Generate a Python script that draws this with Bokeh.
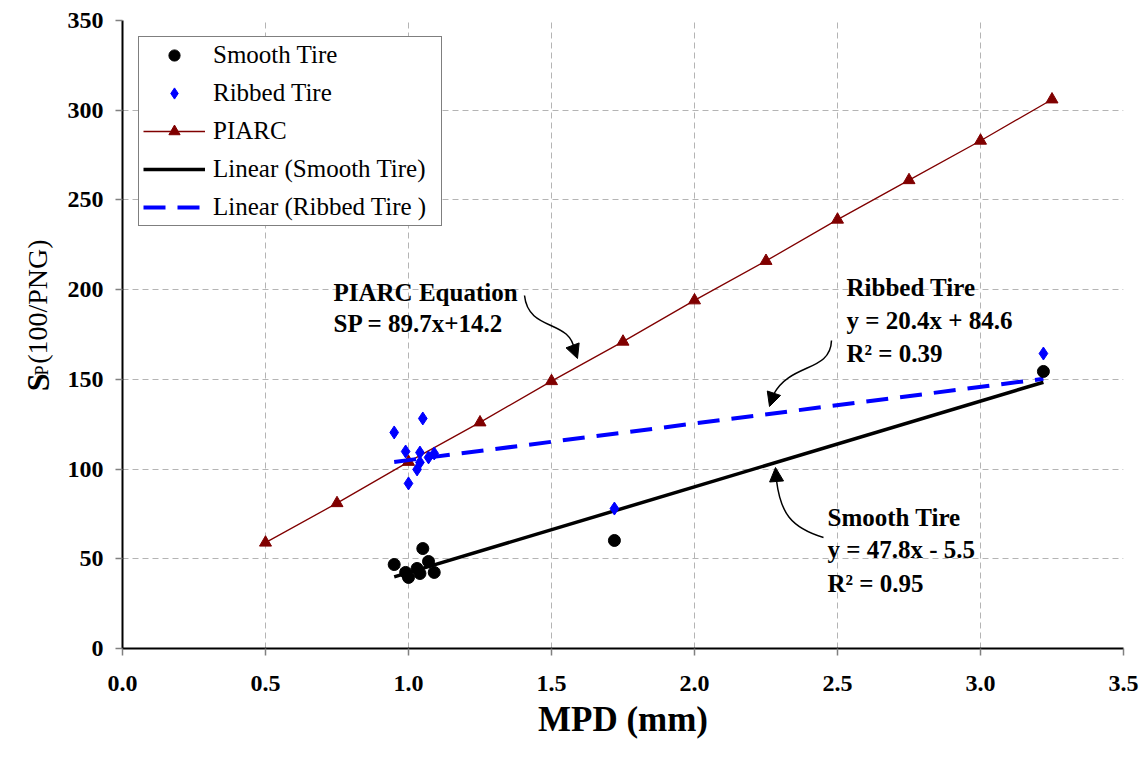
from math import pi

from bokeh.embed import file_html
from bokeh.layouts import row
from bokeh.models import (Arrow, FixedTicker, Label, Legend, LegendItem,
                          NormalHead, NumeralTickFormatter, Range1d)
from bokeh.plotting import figure
from bokeh.resources import INLINE

# ---- data -----------------------------------------------------------------
smooth_mpd = [0.95, 0.99, 1.00, 1.03, 1.04, 1.05, 1.07, 1.09, 1.72, 3.22]
smooth_sp = [46.8, 42.4, 39.6, 44.6, 41.8, 55.7, 48.5, 42.4, 60.2, 154.4]

ribbed_mpd = [0.95, 0.99, 1.00, 1.03, 1.04, 1.04, 1.05, 1.07, 1.09, 1.72, 3.22]
ribbed_sp = [120.4, 109.8, 92.0, 99.8, 103.7, 109.2, 128.2, 106.5, 108.7, 78.0, 164.4]

piarc_mpd = [0.50, 0.75, 1.00, 1.25, 1.50, 1.75, 2.00, 2.25, 2.50, 2.75, 3.00, 3.25]
piarc_sp = [59, 81, 104, 126, 149, 171, 194, 216, 239, 261, 283, 306]

# linear fits (slope, intercept) as printed on the chart
smooth_fit = (47.8, -5.5)
ribbed_fit = (20.4, 84.6)

x_ticks = [0.0, 0.5, 1.0, 1.5, 2.0, 2.5, 3.0, 3.5]
y_ticks = [0, 50, 100, 150, 200, 250, 300, 350]

# ---- page geometry --------------------------------------------------------
W, H = 1146, 759
STRIP = 60                      # narrow column holding the rotated y title
L, R, T, B = 122, 1123, 20, 648  # plot frame edges on the page
X0, X1, Y0, Y1 = 0.0, 3.5, 0.0, 350.0


def sx(px):
    return X0 + (px - L) / (R - L) * (X1 - X0)


def sy(py):
    return Y0 + (B - py) / (B - T) * (Y1 - Y0)


SERIF = "Liberation Serif"

# ---- y title column -------------------------------------------------------
t = figure(width=STRIP, height=H, x_range=Range1d(0, STRIP), y_range=Range1d(0, H),
           x_axis_type=None, y_axis_type=None, output_backend="svg",
           toolbar_location=None, min_border=0)
t.outline_line_color = None
t.background_fill_color = "white"
t.border_fill_color = "white"
ytitle = [
    ("S", 37, 448, "32px", "bold"),
    ("P", 41, 429, "18px", "normal"),
    ("(100/PNG)", 37, 415, "28px", "normal"),
]
for txt, px, py, size, style in ytitle:
    t.add_layout(Label(x=px, y=H - py, text=txt, angle=pi / 2,
                       text_font=SERIF, text_font_style=style, text_font_size=size,
                       text_align="left", text_baseline="alphabetic",
                       text_color="black"))

# ---- main chart -----------------------------------------------------------
p = figure(width=W - STRIP, height=H, x_range=Range1d(X0, X1), y_range=Range1d(Y0, Y1),
           output_backend="svg", toolbar_location=None,
           min_border_left=L - STRIP, min_border_right=W - R,
           min_border_top=T, min_border_bottom=H - B)
p.outline_line_color = None
p.background_fill_color = "white"
p.border_fill_color = "white"

# axes
p.xaxis.ticker = FixedTicker(ticks=x_ticks)
p.yaxis.ticker = FixedTicker(ticks=y_ticks)
p.xaxis.formatter = NumeralTickFormatter(format="0.0")
for ax in (p.xaxis[0], p.yaxis[0]):
    ax.axis_line_color = "black"
    ax.axis_line_width = 2
    ax.major_tick_line_color = "#808080"
    ax.major_tick_line_width = 1.5
    ax.major_tick_out = 7
    ax.major_tick_in = 0
    ax.minor_tick_line_color = None
    ax.major_label_text_font = SERIF
    ax.major_label_text_font_style = "bold"
    ax.major_label_text_font_size = "24px"
    ax.major_label_text_color = "black"
p.xaxis.major_label_standoff = 20
p.yaxis.major_label_standoff = 12
p.xaxis.axis_label = "MPD (mm)"
p.xaxis.axis_label_text_font = SERIF
p.xaxis.axis_label_text_font_style = "bold"
p.xaxis.axis_label_text_font_size = "35px"
p.xaxis.axis_label_text_color = "black"
p.xaxis.axis_label_standoff = 6

# grid
for g in (p.xgrid[0], p.ygrid[0]):
    g.grid_line_color = "#b4b4b4"
    g.grid_line_dash = "6 4"
    g.grid_line_width = 1

# PIARC line with triangles
piarc_line = p.line(piarc_mpd, piarc_sp, line_color="#800000", line_width=1.3)
piarc_pts = p.scatter(piarc_mpd, piarc_sp, marker="triangle", size=12,
                      fill_color="#800000", line_color="#800000")

# linear trend lines
s_x = [min(smooth_mpd), max(smooth_mpd)]
s_y = [smooth_fit[0] * x + smooth_fit[1] for x in s_x]
r_x = [min(ribbed_mpd), max(ribbed_mpd)]
r_y = [ribbed_fit[0] * x + ribbed_fit[1] for x in r_x]
lin_s = p.line(s_x, s_y, line_color="black", line_width=3.5)
lin_r = p.line(r_x, r_y, line_color="#0000ff", line_width=4, line_dash="22 12")

# measured points
ribbed_pts = p.scatter(ribbed_mpd, ribbed_sp, marker="diamond", size=13,
                       fill_color="#0000ff", line_color="#0000ff")
smooth_pts = p.scatter(smooth_mpd, smooth_sp, marker="circle", size=12,
                       fill_color="black", line_color="black")

# legend
legend = Legend(items=[
    LegendItem(label="Smooth Tire", renderers=[smooth_pts]),
    LegendItem(label="Ribbed Tire", renderers=[ribbed_pts]),
    LegendItem(label="PIARC", renderers=[piarc_line, piarc_pts]),
    LegendItem(label="Linear (Smooth Tire)", renderers=[lin_s]),
    LegendItem(label="Linear (Ribbed Tire )", renderers=[lin_r]),
], location=(16, 422))
legend.border_line_color = "black"
legend.border_line_width = 1.5
legend.background_fill_color = "white"
legend.background_fill_alpha = 1
legend.label_text_font = SERIF
legend.label_text_font_size = "25px"
legend.label_text_color = "black"
legend.label_standoff = 8
legend.glyph_width = 62
legend.glyph_height = 28
legend.label_height = 28
legend.label_width = 224
legend.spacing = 10
legend.padding = 4
legend.margin = 0
p.add_layout(legend)

# equation annotations
notes = [
    (333, 292, "PIARC Equation"),
    (333, 323, "SP = 89.7x+14.2"),
    (846, 287, "Ribbed Tire"),
    (846, 320, "y = 20.4x + 84.6"),
    (846, 353, "R² = 0.39"),
    (827, 517, "Smooth Tire"),
    (827, 549, "y = 47.8x - 5.5"),
    (827, 583, "R² = 0.95"),
]
for px, py, txt in notes:
    p.add_layout(Label(x=sx(px), y=sy(py), text=txt, text_font=SERIF,
                       text_font_style="bold", text_font_size="25px",
                       text_align="left", text_baseline="alphabetic",
                       text_color="black"))

# curved pointer arrows: (start, control 0, control 1, end, head tip)
pointers = [
    ((524, 295), (528, 332), (570, 318), (574, 350), (577, 358)),
    ((831, 340), (830, 372), (790, 362), (773, 394), (769, 406)),
    ((823, 537), (790, 527), (780, 512), (776, 480), (775, 467)),
]
for (a, c0, c1, e, tip) in pointers:
    p.bezier(x0=[sx(a[0])], y0=[sy(a[1])], x1=[sx(e[0])], y1=[sy(e[1])],
             cx0=[sx(c0[0])], cy0=[sy(c0[1])], cx1=[sx(c1[0])], cy1=[sy(c1[1])],
             line_color="black", line_width=1.5)
    p.add_layout(Arrow(end=NormalHead(size=14, fill_color="black", line_color="black"),
                       x_start=sx(e[0]), y_start=sy(e[1]),
                       x_end=sx(tip[0]), y_end=sy(tip[1]),
                       line_color="black", line_width=1.5))

page = row(t, p)
open("out.html", "w").write(file_html(page, INLINE))
